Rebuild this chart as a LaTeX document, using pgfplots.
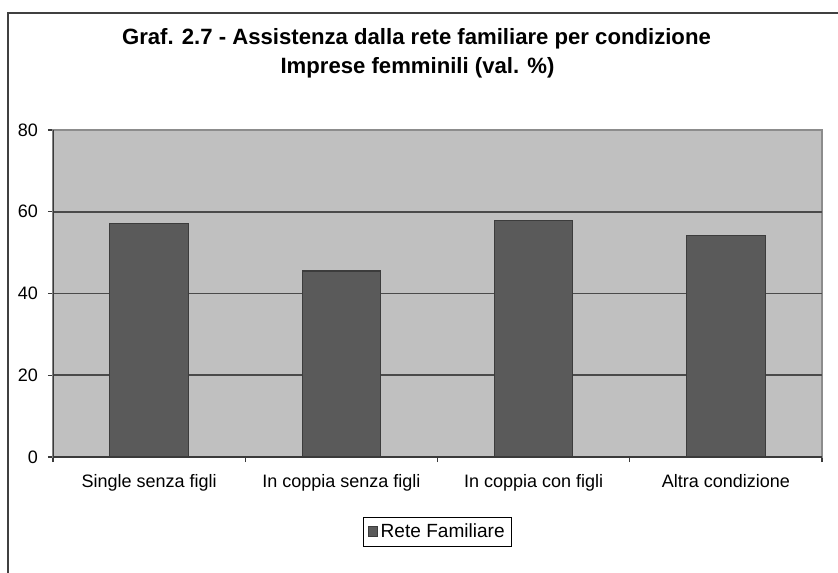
\documentclass[border=0pt]{standalone}
\usepackage{fontspec}
\setmainfont{Liberation Sans}
\usepackage{pgfplots}
\pgfplotsset{compat=1.18}

\definecolor{plotbg}{HTML}{C0C0C0}
\definecolor{barc}{HTML}{5A5A5A}
\definecolor{bard}{HTML}{3C3C3C}
\definecolor{gridc}{HTML}{4A4A4A}
\definecolor{bordc}{HTML}{8C8C8C}
\definecolor{axisc}{HTML}{3A3A3A}

\begin{document}
\begin{tikzpicture}
  % page = 838x572 px at 0.75pt per px, origin at the plot's lower left corner
  \path[use as bounding box] (-39.75pt,-86.25pt) rectangle (588.75pt,342.75pt);
  \draw[line width=1pt, black!75] (-33.75pt,-95pt) -- (-33.75pt,333pt) -- (595pt,333pt);

  \node[font=\bfseries\fontsize{16.6}{19}\selectfont] at (272.6pt,313.5pt)
    {Graf. 2.7 - Assistenza dalla rete familiare per condizione};
  \node[font=\bfseries\fontsize{16.6}{19}\selectfont] at (273.4pt,291.8pt)
    {Imprese femminili (val. \%)};

  \begin{axis}[
      at={(0pt,0pt)}, anchor=south west,
      scale only axis,
      width=576.75pt,
      height=245.25pt,
      xmin=0.5, xmax=4.5,
      ymin=0, ymax=80,
      ybar,
      bar width=59pt,
      xtick={1,2,3,4},
      xticklabels={Single senza figli, In coppia senza figli, In coppia con figli, Altra condizione},
      major x tick style={draw=none},
      minor xtick={0.5,1.5,2.5,3.5,4.5},
      minor tick length=3.75pt,
      ytick={0,20,40,60,80},
      major tick length=3.75pt,
      tick align=outside,
      tick pos=left,
      tick style={draw=axisc, line width=0.8pt},
      extra y ticks={20,40,60},
      extra y tick labels={},
      extra y tick style={grid=major, major tick length=0pt},
      major grid style={draw=gridc, line width=1.3pt},
      axis background/.style={fill=plotbg},
      axis line style={draw=bordc, line width=0.8pt},
      /pgf/number format/assume math mode=true,
      tick label style={font=\fontsize{13.5}{16}\selectfont},
      yticklabel style={xshift=-4pt},
      xticklabel style={yshift=-6pt},
      legend style={at={(0.5,-0.228)}, anchor=center, draw=black, line width=0.6pt,
        font=\fontsize{14.3}{17}\selectfont, inner xsep=3pt, inner ysep=3pt},
      legend image code/.code={\draw[#1] (0pt,-3.5pt) rectangle (7pt,3.5pt);},
  ]
    \addplot[fill=barc, draw=bard, line width=0.8pt] coordinates {
      (1,57.2)
      (2,45.5)
      (3,57.9)
      (4,54.3)
    };
    \addlegendentry{Rete Familiare}
    \draw[axisc, line width=1pt] (rel axis cs:0,1) -- (rel axis cs:0,0) -- (rel axis cs:1,0);
  \end{axis}
\end{tikzpicture}
\end{document}
